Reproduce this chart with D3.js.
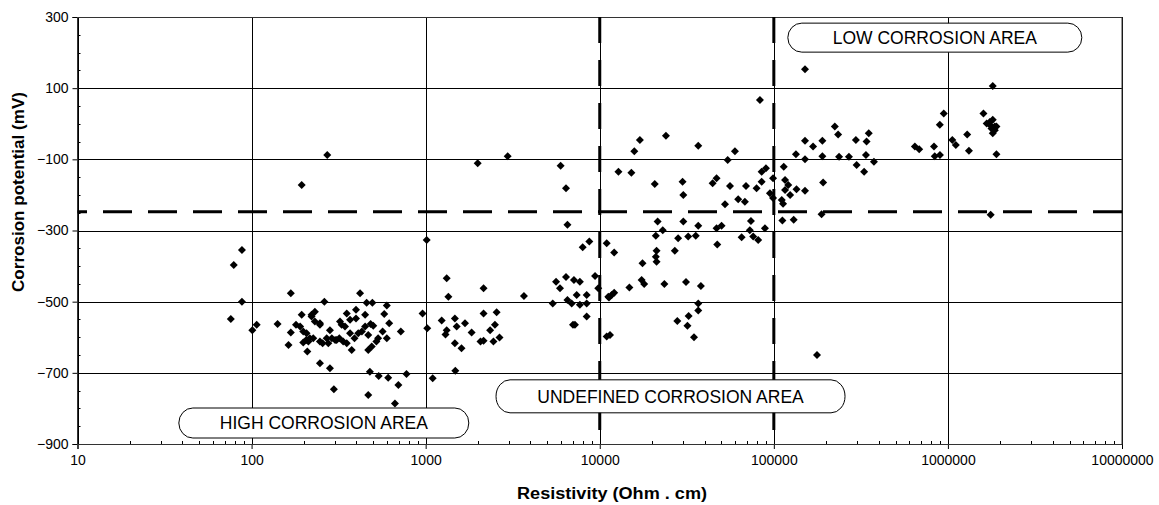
<!DOCTYPE html>
<html lang="en">
<head>
<meta charset="UTF-8">
<title>Corrosion potential vs resistivity</title>
<style>
  body { margin: 0; background: #fff; }
  svg { display: block; font-family: "Liberation Sans", Arial, sans-serif; }
</style>
</head>
<body>
<div id="chart"></div>
<script src="https://cdn.jsdelivr.net/npm/d3@7"></script>
<script>
// [resistivity (Ohm.cm), corrosion potential (mV)]
const highZone = [
  [88,-355],[79,-397],[88,-500],[76,-549],[101,-580],[107,-565],
  [272,-88],[194,-172],
  [141,-563],[168,-476],[163,-622],[168,-587],[180,-565],[194,-537],[190,-570],[198,-584],
  [209,-640],[206,-608],[212,-612],[198,-615],[226,-603],[221,-542],[231,-528],[247,-561],
  [247,-673],[282,-687],[297,-746],[262,-500],[256,-617],[282,-580],[289,-603],[276,-617],
  [302,-608],[322,-556],[329,-565],[352,-533],[344,-570],[319,-603],[336,-612],[352,-617],
  [368,-589],[376,-636],[398,-523],[398,-547],[410,-589],[420,-476],[449,-537],[430,-584],
  [449,-570],[468,-594],[483,-563],[500,-568],[458,-503],[494,-503],[468,-636],[490,-626],
  [521,-612],[533,-603],[478,-697],[537,-709],[468,-762],[598,-511],[578,-535],[617,-561],
  [566,-584],[598,-603],[609,-714],[697,-734],[666,-786],[776,-703],[720,-584],
  [221,-537],[231,-556],[247,-565],[207,-589],[216,-603],[247,-612],[270,-603],[308,-608],
  [368,-551],[390,-603],
  [1014,-327],[960,-533],[1021,-575],
  [1990,-111],[2958,-91],[5960,-118],[6400,-181],[6520,-284],[1320,-434],[1350,-486],
  [2150,-462],[3670,-484],[1236,-553],[1320,-580],[1300,-592],[1472,-547],[1507,-570],
  [1683,-561],[1472,-617],[1607,-631],[1836,-587],[2150,-533],[2065,-612],[2150,-610],
  [2556,-530],[2500,-565],[2345,-580],[2450,-612],[2655,-601],[1480,-694],[1097,-715],
  [5370,-505],[5610,-444],[5910,-462],[6400,-431],[7110,-439],[7690,-444],[7980,-347],
  [8710,-331],[9400,-428],[6520,-495],[6900,-505],[7370,-481],[7690,-509],[8410,-481],
  [8410,-505],[8410,-542],[7020,-565],[7200,-565],[9800,-462]
];

const undefinedZone = [
  [10960,-336],[11200,-486],[10960,-598],
  [83200,67],[17000,-46],[15800,-77],[24000,-34],[36800,-62],[12800,-135],[15200,-138],
  [20700,-169],[29900,-163],[30200,-200],[54300,-102],[59800,-77],[44500,-167],[46900,-153],
  [56000,-175],[69200,-175],[79600,-181],[85100,-163],[85100,-135],[90100,-125],[95000,-195],
  [99000,-153],[99000,-209],
  [52400,-226],[62400,-212],[68200,-219],[21500,-275],[23000,-299],[21000,-315],[30200,-275],
  [36800,-287],[28200,-322],[32200,-317],[35600,-315],[46900,-294],[50100,-287],[47300,-339],
  [65300,-319],[73900,-273],[72800,-299],[76100,-317],[81300,-327],[88900,-294],[27000,-357],
  [21200,-357],[21000,-374],[21200,-388],[17600,-392],[17400,-439],[18000,-450],[23500,-450],
  [31300,-445],[38100,-456],[14800,-460],[12100,-362],[11700,-481],[12100,-475],[11300,-488],
  [36800,-505],[36800,-525],[32400,-540],[27900,-554],[31900,-568],[34800,-600],[11450,-594]
];

const lowZone = [
  [151000,153],[224000,-8],[234000,-30],[151000,-48],[168000,-64],[190000,-48],[134000,-86],
  [151000,-100],[190000,-91],[237000,-93],[270000,-93],[296000,-46],[341000,-50],[351000,-27],
  [338000,-88],[376000,-107],[299000,-116],[330000,-135],[192000,-165],[114000,-121],
  [116000,-158],[121000,-172],[116000,-186],[124000,-200],[135000,-184],[151000,-188],
  [111000,-214],[113000,-225],[112000,-272],[130000,-270],[188000,-254],[177000,-650],
  [646000,-64],[684000,-72],[898000,-3],[946000,29],[832000,-64],[840000,-91],[900000,-88],
  [1810000,106],[1600000,29],[1740000,5],[1810000,11],[1860000,-8],[1740000,-3],[1670000,1],
  [1780000,-13],[1900000,-8],[1810000,-27],[1860000,-18],[1900000,-86],[1760000,-256],
  [1060000,-46],[1110000,-60],[1290000,-30],[1320000,-76]
];

const xTicks = [10, 100, 1000, 10000, 100000, 1000000, 10000000];
const yTicks = [-900, -700, -500, -300, -100, 100, 300];
const thresholdPotential = -247;
const thresholdResistivity = [10000, 100000];

// label, centre resistivity, centre potential
const zoneLabels = [
  {text: "HIGH CORROSION AREA", r: 260, e: -841, w: 290, h: 30},
  {text: "UNDEFINED CORROSION AREA", r: 25500, e: -766, w: 349, h: 33},
  {text: "LOW CORROSION AREA", r: 841000, e: 242, w: 294, h: 29}
];

const W = 1159, H = 505;
const mLeft = 77.5, mRight = 1122, mTop = 17, mBottom = 444;

const svg = d3.select('#chart').append('svg')
  .attr('width', W).attr('height', H);

const x = d3.scaleLog().domain([10, 1e7]).range([mLeft, mRight]);
const y = d3.scaleLinear().domain([-900, 300]).range([mBottom, mTop]);

// grid
const grid = svg.append('g').attr('stroke', '#000').attr('stroke-width', 1);
grid.selectAll('.hg').data(yTicks).enter().append('line')
  .attr('x1', mLeft).attr('x2', mRight)
  .attr('y1', d => Math.round(y(d)) + 0.5).attr('y2', d => Math.round(y(d)) + 0.5);
grid.selectAll('.vg').data(xTicks).enter().append('line')
  .attr('y1', mTop).attr('y2', mBottom)
  .attr('x1', d => Math.round(x(d)) + 0.5).attr('x2', d => Math.round(x(d)) + 0.5);

// minor ticks
const minorY = d3.range(-850, 300, 50).filter(v => !yTicks.includes(v));
svg.append('g').selectAll('line').data(minorY).enter().append('line')
  .attr('x1', mLeft).attr('x2', mLeft + 3)
  .attr('y1', d => Math.round(y(d)) + 0.5).attr('y2', d => Math.round(y(d)) + 0.5)
  .attr('stroke', '#000');
const minorX = [];
xTicks.slice(0, -1).forEach(t => { for (let k = 2; k < 10; k++) minorX.push(t * k); });
svg.append('g').selectAll('line').data(minorX).enter().append('line')
  .attr('y1', mBottom).attr('y2', mBottom - 3)
  .attr('x1', d => Math.round(x(d)) + 0.5).attr('x2', d => Math.round(x(d)) + 0.5)
  .attr('stroke', '#000');

// axes
const yAxis = d3.axisLeft(y).tickValues(yTicks).tickSize(5).tickPadding(4);
const xAxis = d3.axisBottom(x).tickValues(xTicks).tickFormat(d3.format('d')).tickSize(5).tickPadding(6);

const gy = svg.append('g').attr('transform', `translate(${mLeft},0)`).call(yAxis);
const gx = svg.append('g').attr('transform', `translate(0,${mBottom})`).call(xAxis);
[gx, gy].forEach(g => {
  g.select('.domain').attr('stroke', '#000');
  g.selectAll('.tick line').attr('stroke', '#000');
  g.selectAll('text').attr('font-size', 14).attr('fill', '#000')
    .attr('font-family', '"Liberation Sans", Arial, sans-serif');
});

// frame
svg.append('rect')
  .attr('x', mLeft).attr('y', mTop + 0.5)
  .attr('width', mRight - mLeft).attr('height', mBottom - mTop)
  .attr('fill', 'none').attr('stroke', '#333');

// threshold lines
svg.append('line')
  .attr('x1', mLeft).attr('x2', mRight)
  .attr('y1', y(thresholdPotential)).attr('y2', y(thresholdPotential))
  .attr('stroke', '#000').attr('stroke-width', 3)
  .attr('stroke-dasharray', '29,16').attr('stroke-dashoffset', 19.5);

svg.selectAll('.vdash').data(thresholdResistivity).enter().append('line')
  .attr('x1', d => x(d)).attr('x2', d => x(d))
  .attr('y1', mTop).attr('y2', mBottom)
  .attr('stroke', '#000').attr('stroke-width', 3)
  .attr('stroke-dasharray', '26,17');

// points
const diamond = d3.symbol().type(d3.symbolSquare).size(32);
const allPoints = highZone.concat(undefinedZone, lowZone);
svg.append('g').selectAll('path').data(allPoints).enter().append('path')
  .attr('d', diamond)
  .attr('transform', d => `translate(${x(d[0])},${y(d[1])}) rotate(45)`)
  .attr('fill', '#000');

// zone labels
const zl = svg.append('g').selectAll('g').data(zoneLabels).enter().append('g')
  .attr('transform', d => `translate(${x(d.r)},${y(d.e)})`);
zl.append('rect')
  .attr('x', d => -d.w / 2).attr('y', d => -d.h / 2)
  .attr('width', d => d.w).attr('height', d => d.h)
  .attr('rx', 14).attr('ry', d => d.h / 2)
  .attr('fill', '#fff').attr('stroke', '#000').attr('stroke-width', 1);
zl.append('text')
  .attr('text-anchor', 'middle').attr('dy', '0.36em')
  .attr('font-size', 17.5)
  .text(d => d.text);

// axis titles
svg.append('text')
  .attr('x', 612).attr('y', 499)
  .attr('text-anchor', 'middle').attr('font-weight', 'bold').attr('font-size', 16)
  .attr('textLength', 190).attr('lengthAdjust', 'spacingAndGlyphs')
  .text('Resistivity (Ohm . cm)');
svg.append('text')
  .attr('transform', 'translate(24,192) rotate(-90)')
  .attr('text-anchor', 'middle').attr('font-weight', 'bold').attr('font-size', 16)
  .attr('textLength', 200).attr('lengthAdjust', 'spacingAndGlyphs')
  .text('Corrosion potential (mV)');
</script>
</body>
</html>
